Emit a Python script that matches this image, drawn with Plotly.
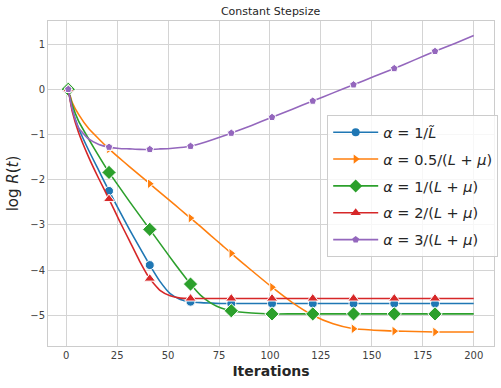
import plotly.graph_objects as go

iters = [1, 3, 6, 11, 16, 21, 26, 31, 36, 41, 46, 51, 56, 61, 66, 71, 76, 81,
         91, 101, 111, 121, 131, 141, 151, 161, 171, 181, 191, 200]

r_blue = [0, -0.45, -0.85, -1.35, -1.80, -2.25, -2.68, -3.10, -3.50, -3.89, -4.25, -4.52,
          -4.65, -4.70, -4.72, -4.73, -4.74, -4.74,
          -4.74, -4.74, -4.74, -4.74, -4.74, -4.74, -4.74, -4.74, -4.74, -4.74, -4.74, -4.74]
r_orange = [0, -0.30, -0.55, -0.87, -1.10, -1.32, -1.52, -1.71, -1.90, -2.09, -2.28, -2.47,
            -2.66, -2.85, -3.04, -3.24, -3.43, -3.63,
            -4.01, -4.38, -4.72, -5.00, -5.19, -5.30, -5.33, -5.35, -5.36, -5.37, -5.37, -5.37]
r_green = [0, -0.35, -0.70, -1.10, -1.48, -1.84, -2.16, -2.48, -2.79, -3.10, -3.41, -3.72,
           -4.02, -4.31, -4.56, -4.73, -4.84, -4.90,
           -4.95, -4.97, -4.97, -4.97, -4.97, -4.97, -4.97, -4.97, -4.97, -4.97, -4.97, -4.97]
r_red = [0, -0.50, -0.95, -1.50, -1.98, -2.43, -2.90, -3.35, -3.80, -4.19, -4.45, -4.57,
         -4.62, -4.63, -4.63, -4.63, -4.63, -4.63,
         -4.63, -4.63, -4.63, -4.63, -4.63, -4.63, -4.63, -4.63, -4.63, -4.63, -4.63, -4.63]
r_purple = [0, -0.45, -0.85, -1.10, -1.22, -1.28, -1.31, -1.32, -1.33, -1.33, -1.32, -1.31,
            -1.29, -1.26, -1.20, -1.13, -1.05, -0.97,
            -0.80, -0.62, -0.44, -0.26, -0.08, 0.10, 0.28, 0.46, 0.65, 0.84, 1.02, 1.19]

labels = [
    "<i>α</i> = 1/<i>L̃</i>",
    "<i>α</i> = 0.5/(<i>L</i> + <i>μ</i>)",
    "<i>α</i> = 1/(<i>L</i> + <i>μ</i>)",
    "<i>α</i> = 2/(<i>L</i> + <i>μ</i>)",
    "<i>α</i> = 3/(<i>L</i> + <i>μ</i>)",
]
colors = ["#1f77b4", "#ff7f0e", "#2ca02c", "#d62728", "#9467bd"]
symbols = ["circle", "triangle-right", "diamond", "triangle-up", "pentagon"]
sizes = [9, 9, 11, 10, 8]

fig = go.Figure()
mark_idx = [i for i, t in enumerate(iters) if (t - 1) % 20 == 0]

for k, (vals, name, col, sym, sz) in enumerate(zip([r_blue, r_orange, r_green, r_red, r_purple],
                                                   labels, colors, symbols, sizes)):
    fig.add_trace(go.Scatter(x=iters, y=vals, mode="lines",
                             line=dict(color=col, width=1.6, shape="spline", smoothing=0.5),
                             showlegend=False, hoverinfo="skip"))
    fig.add_trace(go.Scatter(x=[iters[i] for i in mark_idx], y=[vals[i] for i in mark_idx],
                             mode="markers", showlegend=False,
                             marker=dict(color=col, symbol=sym, size=sz,
                                         line=dict(color="white", width=1))))
    # legend entry only
    fig.add_trace(go.Scatter(x=[None], y=[None], mode="lines+markers", name=name,
                             legendgroup=f"g{k}",
                             line=dict(color=col, width=1.6),
                             marker=dict(color=col, symbol=sym, size=sz - 1)))

axis_common = dict(showgrid=True, gridcolor="#d4d4d4", gridwidth=1, zeroline=False,
                   showline=True, linecolor="#cccccc", linewidth=1, mirror=True,
                   ticks="", tickfont=dict(size=10, color="#404040"), automargin=False)

fig.update_layout(
    width=501, height=388,
    margin=dict(l=48, r=7, t=21, b=42, autoexpand=False),
    paper_bgcolor="white", plot_bgcolor="white",
    font=dict(family="DejaVu Sans", color="#262626"),
    title=dict(text="Constant Stepsize", x=0.54, xanchor="center", y=0.97, yanchor="middle",
               font=dict(size=11, color="#262626")),
    xaxis=dict(range=[-8.95, 209.95], tickvals=[0, 25, 50, 75, 100, 125, 150, 175, 200],
               title=dict(text="<b>Iterations</b>", font=dict(size=14, color="#262626"), standoff=6),
               **axis_common),
    yaxis=dict(range=[-5.68, 1.51], tickvals=[-5, -4, -3, -2, -1, 0, 1],
               title=dict(text="log <i>R</i>(<i>t</i>)", font=dict(size=15, color="#262626"), standoff=8),
               **axis_common),
    legend=dict(x=0.626, y=0.71, xanchor="left", yanchor="top", itemwidth=45,
                bgcolor="rgba(255,255,255,0.8)", bordercolor="#cccccc", borderwidth=1,
                font=dict(size=14.5, color="#262626"), tracegroupgap=5),
)

# page body has an 8px default margin; drop it so the figure fills the window
fig.write_html("out.html", config={"displayModeBar": False},
               post_script="document.body.style.margin='0';")
